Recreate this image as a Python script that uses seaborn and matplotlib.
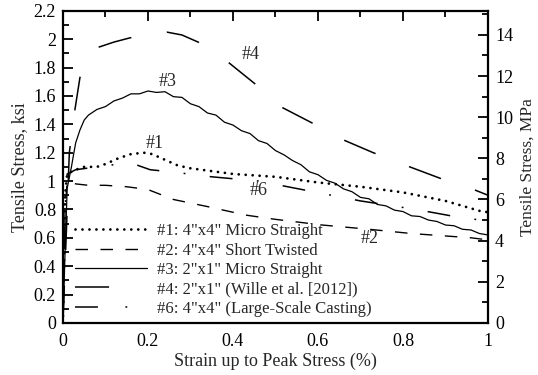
import numpy as np
import matplotlib
matplotlib.use("Agg")
import matplotlib.pyplot as plt
import seaborn as sns
from matplotlib.lines import Line2D
from matplotlib.ticker import MultipleLocator, FuncFormatter

# ---- data (strain %, stress ksi) ----
x1 = [0.0, 0.005, 0.01, 0.03, 0.05, 0.08, 0.10, 0.13, 0.16, 0.19, 0.21, 0.24, 0.27,
      0.30, 0.35, 0.40, 0.45, 0.50, 0.60, 0.70, 0.80, 0.90, 0.98, 1.00]
y1 = [0.0, 0.9, 1.05, 1.08, 1.10, 1.10, 1.12, 1.16, 1.19, 1.20, 1.19, 1.15, 1.11,
      1.09, 1.07, 1.05, 1.04, 1.03, 0.99, 0.96, 0.92, 0.86, 0.79, 0.78]

x2 = [0.0, 0.005, 0.01, 0.03, 0.06, 0.10, 0.15, 0.20, 0.26, 0.34, 0.43, 0.50,
      0.61, 0.72, 0.82, 0.96, 1.00]
y2 = [0.0, 0.8, 1.0, 0.98, 0.97, 0.97, 0.96, 0.94, 0.87, 0.82, 0.76, 0.73,
      0.69, 0.66, 0.63, 0.60, 0.585]

x3 = [0.0, 0.005, 0.01, 0.02, 0.024, 0.03, 0.04, 0.05,
      0.06, 0.08, 0.10, 0.12, 0.14, 0.16, 0.18, 0.20, 0.22, 0.24, 0.26, 0.28,
      0.30, 0.32, 0.34, 0.36, 0.38, 0.40, 0.42, 0.44, 0.46, 0.48, 0.50, 0.52,
      0.54, 0.56, 0.58, 0.60, 0.62, 0.64, 0.66, 0.68, 0.70, 0.72, 0.74, 0.76,
      0.78, 0.80, 0.82, 0.84, 0.86, 0.88, 0.90, 0.92, 0.94, 0.96, 0.98, 1.00]
y3 = [0.0, 0.5, 0.95, 1.10, 1.17, 1.27, 1.36, 1.43,
      1.465, 1.505, 1.525, 1.565, 1.585, 1.615, 1.615, 1.635, 1.625, 1.63, 1.595, 1.59,
      1.545, 1.525, 1.48, 1.465, 1.415, 1.395, 1.355, 1.335, 1.285, 1.265, 1.215, 1.185,
      1.145, 1.115, 1.065, 1.045, 1.005, 0.985, 0.945, 0.925, 0.885, 0.875, 0.835, 0.825,
      0.795, 0.785, 0.755, 0.75, 0.725, 0.715, 0.69, 0.685, 0.66, 0.655, 0.63, 0.62]

x4 = [0.0, 0.015, 0.028, 0.04, 0.06, 0.08, 0.12, 0.158, 0.20, 0.245, 0.28, 0.318,
      0.36, 0.388, 0.45, 0.515, 0.586, 0.66, 0.73, 0.816, 0.887, 0.95, 1.00]
y4 = [0.0, 1.2, 1.5, 1.73, 1.88, 1.94, 1.98, 2.01, 2.03, 2.05, 2.03, 1.98,
      1.90, 1.84, 1.69, 1.52, 1.41, 1.29, 1.20, 1.10, 1.02, 0.96, 0.90]

x6 = [0.0, 0.005, 0.01, 0.03, 0.08, 0.158, 0.205, 0.27, 0.32, 0.35, 0.46, 0.58,
      0.70, 0.83, 0.94, 1.00]
y6 = [0.0, 0.8, 1.05, 1.08, 1.10, 1.13, 1.08, 1.06, 1.04, 1.03, 1.00, 0.93,
      0.86, 0.80, 0.74, 0.72]

legend_labels = ['#1: 4"x4" Micro Straight', '#2: 4"x4" Short Twisted',
                 '#3: 2"x1" Micro Straight', '#4: 2"x1" (Wille et al. [2012])',
                 '#6: 4"x4" (Large-Scale Casting)']

sns.set_style("white")
plt.rcParams['font.family'] = ['Liberation Serif', 'DejaVu Serif']

fig = plt.figure(figsize=(5.38, 3.75), dpi=100)
ax = fig.add_axes([0.117, 0.139, 0.790, 0.832])

# dash patterns (units of linewidth)
st1 = (0, (0.01, 2.5))
st2 = (0, (9, 9))
st3 = '-'
st4 = (43.8, (22.3, 23.5))
st6 = (0, (15, 16, 1.2, 16))

sns.lineplot(x=x1, y=y1, ax=ax, color='black', lw=2.0, linestyle=st1,
             estimator=None, sort=False, dash_capstyle='round')
sns.lineplot(x=x2, y=y2, ax=ax, color='black', lw=1.0, linestyle=st2,
             estimator=None, sort=False)
sns.lineplot(x=x3, y=y3, ax=ax, color='black', lw=0.9, linestyle=st3,
             estimator=None, sort=False)
sns.lineplot(x=x4, y=y4, ax=ax, color='black', lw=1.1, linestyle=st4,
             estimator=None, sort=False)
sns.lineplot(x=x6, y=y6, ax=ax, color='black', lw=1.1, linestyle=st6,
             estimator=None, sort=False)

ax.set_xlim(0, 1)
ax.set_ylim(0, 2.2)
fmt = FuncFormatter(lambda v, p: f"{v:g}")
ax.xaxis.set_major_locator(MultipleLocator(0.2))
ax.xaxis.set_minor_locator(MultipleLocator(0.1))
ax.yaxis.set_major_locator(MultipleLocator(0.2))
ax.yaxis.set_minor_locator(MultipleLocator(0.1))
ax.xaxis.set_major_formatter(fmt)
ax.yaxis.set_major_formatter(fmt)
ax.tick_params(which='both', direction='in', top=True, labelsize=13,
               colors='black', width=1.3)
ax.tick_params(which='major', length=7)
ax.tick_params(which='minor', length=4)
ax.tick_params(axis='x', pad=7)
ax.tick_params(axis='y', right=False, pad=5)
for s in ax.spines.values():
    s.set_linewidth(1.6)
    s.set_color('black')

ax.set_xlabel('Strain up to Peak Stress (%)', fontsize=13, labelpad=2)
ax.set_ylabel('Tensile Stress, ksi', fontsize=13, labelpad=4)

ax2 = ax.twinx()
ax2.set_ylim(0, 2.2 * 6.895)
ax2.yaxis.set_major_locator(MultipleLocator(2))
ax2.yaxis.set_minor_locator(MultipleLocator(1))
ax2.yaxis.set_major_formatter(fmt)
ax2.tick_params(which='both', direction='in', labelsize=13, colors='black',
                width=1.3, pad=5)
ax2.tick_params(which='major', length=7)
ax2.tick_params(which='minor', length=4)
ax2.set_ylabel('Tensile Stress, MPa', fontsize=12.5, labelpad=5)
for s in ax2.spines.values():
    s.set_visible(False)

ax.text(0.42, 1.86, '#4', fontsize=13)
ax.text(0.225, 1.67, '#3', fontsize=13)
ax.text(0.195, 1.23, '#1', fontsize=13)
ax.text(0.44, 0.90, '#6', fontsize=13)
ax.text(0.70, 0.56, '#2', fontsize=13)

handles = [
    Line2D([], [], color='black', lw=2.0, linestyle=st1, dash_capstyle='round'),
    Line2D([], [], color='black', lw=1.0, linestyle=st2),
    Line2D([], [], color='black', lw=0.9, linestyle=st3),
    Line2D([], [], color='black', lw=1.1, linestyle=(0, (22.3, 60))),
    Line2D([], [], color='black', lw=1.1, linestyle=(0, (15, 18, 1.2, 30))),
]
ax.legend(handles, legend_labels, loc='lower left', bbox_to_anchor=(0.028, 0.02),
          frameon=False, fontsize=12, handlelength=4.3, handletextpad=0.6,
          labelspacing=0.2, borderaxespad=0.0, borderpad=0.0)

fig.savefig('out.png', dpi=100)
